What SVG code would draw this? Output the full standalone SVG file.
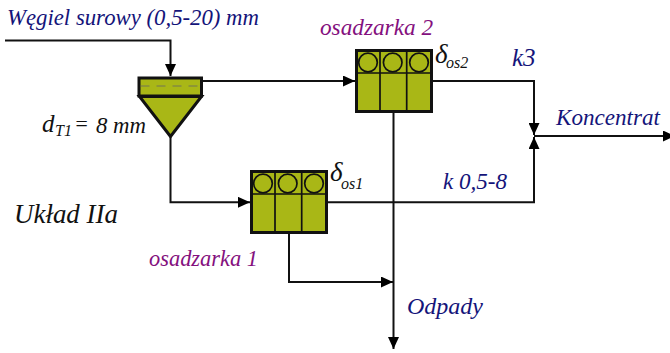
<svg xmlns="http://www.w3.org/2000/svg" width="670" height="353" viewBox="0 0 670 353">
<style>
text{font-family:"Liberation Serif","Times New Roman",serif;font-style:italic}
.n{fill:#14147a}.p{fill:#84107e}.k{fill:#111}
.f{fill:#a9b716;stroke:#111;stroke-width:3}
.d{fill:none;stroke:#111;stroke-width:1.7}
.c{fill:none;stroke:#111;stroke-width:2}
.s{font-size:16px}
</style>
<defs>
<marker id="a" markerUnits="userSpaceOnUse" markerWidth="12" markerHeight="11" refX="12" refY="5.500" orient="auto" viewBox="0 0 12 11"><path d="M0 0L12 5.500L0 11Z" fill="#000"/></marker>
<g id="cells">
<rect class="f" x="0" y="0" width="75" height="61"/>
<path class="d" d="M23.500 0V61M50.200 0V61M0 22.500H75"/>
<circle class="d" cx="11.500" cy="12" r="9.300"/><circle class="d" cx="36.200" cy="12" r="9.300"/><circle class="d" cx="62.500" cy="12" r="9.300"/>
</g>
</defs>
<g id="connectors">
<path class="c" d="M5 40.500H170.500V76" marker-end="url(#a)"/>
<path class="c" d="M202 81H355" marker-end="url(#a)"/>
<path class="c" d="M170.500 137V202.300H250" marker-end="url(#a)"/>
<path class="c" d="M432 81H534V135" marker-end="url(#a)"/>
<path class="c" d="M327 202.300H534V137" marker-end="url(#a)"/>
<path class="c" d="M534 136H675" marker-end="url(#a)"/>
<path class="c" d="M393.500 112V349" marker-end="url(#a)"/>
<path class="c" d="M289 233V282H393" marker-end="url(#a)"/>
</g>
<g id="hopper">
<rect class="f" x="139" y="78" width="62.500" height="18"/>
<path d="M140.500 86H198" fill="none" stroke="#666" stroke-width="0.800" stroke-dasharray="9 7"/>
<path class="f" d="M139.500 96.500H201.500L170.500 136.500Z"/>
</g>
<g id="osadzarka2" transform="translate(356.500 50.500)"><use href="#cells"/></g>
<g id="osadzarka1" transform="translate(251.500 171.500)"><use href="#cells"/></g>
<g id="labels">
<text class="n" x="7" y="25" font-size="24" textLength="252" lengthAdjust="spacingAndGlyphs">Węgiel surowy (0,5-20) mm</text>
<text class="p" x="320" y="35" font-size="23" textLength="113" lengthAdjust="spacingAndGlyphs">osadzarka 2</text>
<text class="p" x="149" y="266" font-size="23" textLength="109" lengthAdjust="spacingAndGlyphs">osadzarka 1</text>
<text class="k" x="42" y="132" font-size="25">d<tspan class="s" x="55" y="136">T1</tspan></text>
<text class="k" x="74" y="131" font-size="22">=</text>
<text class="k" x="96" y="133" font-size="24" textLength="50" lengthAdjust="spacingAndGlyphs">8 mm</text>
<text class="k" x="14" y="223" font-size="28" textLength="104" lengthAdjust="spacingAndGlyphs">Układ IIa</text>
<text class="k" x="435" y="63" font-size="27">δ<tspan class="s" x="446" y="68">os2</tspan></text>
<text class="k" x="330" y="181" font-size="27">δ<tspan class="s" x="341" y="189">os1</tspan></text>
<text class="n" x="512" y="66" font-size="25">k3</text>
<text class="n" x="443" y="189" font-size="24" textLength="64" lengthAdjust="spacingAndGlyphs">k 0,5-8</text>
<text class="n" x="556" y="125" font-size="24" textLength="104" lengthAdjust="spacingAndGlyphs">Koncentrat</text>
<text class="n" x="407" y="314" font-size="24" textLength="76" lengthAdjust="spacingAndGlyphs">Odpady</text>
</g>
</svg>
